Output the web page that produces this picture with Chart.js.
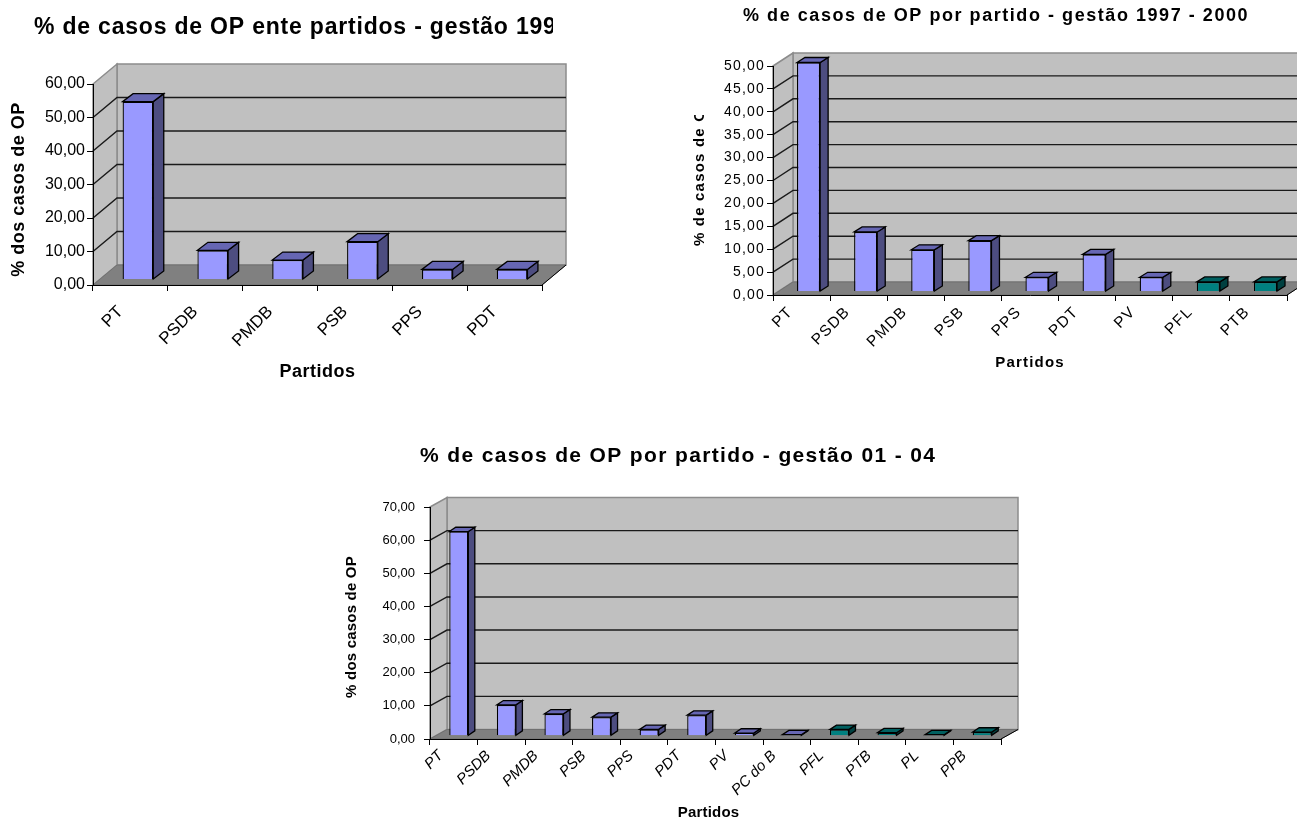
<!DOCTYPE html>
<html lang="pt">
<head>
<meta charset="utf-8">
<title>% de casos de OP por partido</title>
<script src="https://cdn.jsdelivr.net/npm/chart.js"></script>
<style>
  html, body { margin: 0; padding: 0; background: #fff; }
  canvas { position: absolute; }
</style>
</head>
<body>
<canvas id="grafico1" width="590" height="395" style="left:0;top:0"></canvas>
<canvas id="grafico2" width="607" height="395" style="left:690px;top:0"></canvas>
<canvas id="grafico3" width="700" height="389" style="left:335px;top:430px"></canvas>
<script>
// Dados
const partidos1 = ['PT', 'PSDB', 'PMDB', 'PSB', 'PPS', 'PDT'];
const valores1 = [53.1, 8.7, 5.8, 11.3, 3.0, 3.0];

const partidos2 = ['PT', 'PSDB', 'PMDB', 'PSB', 'PPS', 'PDT', 'PV', 'PFL', 'PTB'];
const valores2 = [50.0, 13.0, 9.1, 11.1, 3.1, 8.1, 3.1, 2.1, 2.1];

const partidos3 = ['PT', 'PSDB', 'PMDB', 'PSB', 'PPS', 'PDT', 'PV', 'PC do B', 'PFL', 'PTB', 'PL', 'PPB'];
const valores3 = [61.6, 9.3, 6.6, 5.6, 1.9, 6.2, 0.8, 0.3, 1.9, 0.9, 0.3, 1.1];

const partidosVerdes = ['PFL', 'PTB', 'PL', 'PPB'];

const ROXO = { frente: '#9999ff', topo: '#6666b3', lado: '#4d4d80' };
const VERDE = { frente: '#008080', topo: '#006060', lado: '#004040' };

// Troca um método de desenho por um com espaçamento de letras e deslocamento
function comEstilo(ctx, obj, metodo, espaco, dx = 0, dy = 0) {
    const original = obj[metodo];
    obj[metodo] = function (...args) {
        ctx.save();
        ctx.letterSpacing = espaco + 'px';
        ctx.translate(dx, dy);
        original.apply(this, args);
        ctx.restore();
    };
}

function poligono(ctx, pontos, fundo, linha, largura) {
    ctx.beginPath();
    pontos.forEach((p, i) => (i ? ctx.lineTo(p[0], p[1]) : ctx.moveTo(p[0], p[1])));
    ctx.closePath();
    if (fundo) { ctx.fillStyle = fundo; ctx.fill(); }
    if (linha) { ctx.strokeStyle = linha; ctx.lineWidth = largura; ctx.stroke(); }
}

// Paredes, chão e faces das barras (aspecto de gráfico 3D do Excel)
const efeito3d = {
    id: 'efeito3d',
    afterLayout(chart, args, o) {
        const t = chart.titleBlock;
        t.left = o.tituloX;
        t.right = o.tituloX + 900;
        t.top = o.tituloY;
        if (chart.$estilado) return;
        chart.$estilado = true;
        const ctx = chart.ctx;
        comEstilo(ctx, t, 'draw', o.espTitulo);
        comEstilo(ctx, chart.scales.x, 'drawLabels', o.espTicks);
        comEstilo(ctx, chart.scales.y, 'drawLabels', o.espTicks);
        comEstilo(ctx, chart.scales.x, 'drawTitle', o.espEixo, o.eixoX[0], o.eixoX[1]);
        comEstilo(ctx, chart.scales.y, 'drawTitle', o.espEixo, o.eixoY[0], o.eixoY[1]);
    },
    beforeDraw(chart, args, o) {
        const { ctx, chartArea: a, scales: { y } } = chart;
        const [dx, dy] = o.fundo;
        ctx.save();
        poligono(ctx, [[a.left + dx, a.top + dy], [a.right + dx, a.top + dy], [a.right + dx, a.bottom + dy], [a.left + dx, a.bottom + dy]], '#c0c0c0', '#8c8c8c', 1.5);
        poligono(ctx, [[a.left, a.top], [a.left + dx, a.top + dy], [a.left + dx, a.bottom + dy], [a.left, a.bottom]], '#c0c0c0', '#8c8c8c', 1.5);
        y.ticks.forEach(t => {
            const py = y.getPixelForValue(t.value);
            if (t.value === y.max || t.value === 0) return;
            ctx.strokeStyle = '#1a1a1a';
            ctx.lineWidth = 1.4;
            ctx.beginPath();
            ctx.moveTo(a.left, py);
            ctx.lineTo(a.left + dx, py + dy);
            ctx.lineTo(a.right + dx, py + dy);
            ctx.stroke();
        });
        poligono(ctx, [[a.left, a.bottom], [a.right, a.bottom], [a.right + dx, a.bottom + dy], [a.left + dx, a.bottom + dy]], '#808080', '#707070', 1);
        ctx.strokeStyle = '#000';
        ctx.lineWidth = 1;
        ctx.beginPath();
        ctx.moveTo(a.right, a.bottom);
        ctx.lineTo(a.right + dx, a.bottom + dy);
        ctx.stroke();
        ctx.restore();
    },
    beforeDatasetDraw(chart, args, o) {
        const ctx = chart.ctx;
        const [px, py] = o.barra;
        const [bx, by] = o.prof;
        ctx.save();
        ctx.translate(px, py);
        args.meta.data.forEach((el, i) => {
            const b = el.getProps(['x', 'y', 'base', 'width'], true);
            const x0 = b.x - b.width / 2;
            const x1 = b.x + b.width / 2;
            const cor = partidosVerdes.includes(chart.data.labels[i]) ? VERDE : ROXO;
            poligono(ctx, [[x1, b.y], [x1, b.base], [x1 + bx, b.base + by], [x1 + bx, b.y + by]], cor.lado, '#000', 1.3);
            poligono(ctx, [[x0, b.y], [x1, b.y], [x1 + bx, b.y + by], [x0 + bx, b.y + by]], cor.topo, '#000', 1.3);
        });
    },
    afterDatasetDraw(chart) {
        chart.ctx.restore();
    },
    afterDraw(chart, args, o) {
        // o texto do original aparece cortado pela moldura do objeto
        if (!o.corte) return;
        chart.ctx.fillStyle = '#fff';
        chart.ctx.fillRect(...o.corte);
    }
};

function criarGrafico(id, partidos, valores, titulo, tituloEixoY, maximo, passo, e) {
    const canvas = document.getElementById(id);
    const f = e.frente;
    const rotulo = (tamanho, negrito, italico) => ({
        family: '"Liberation Sans", Arial, sans-serif',
        size: tamanho,
        weight: negrito ? 'bold' : 'normal',
        style: italico ? 'italic' : 'normal'
    });
    return new Chart(canvas, {
        type: 'bar',
        data: {
            labels: partidos,
            datasets: [{
                data: valores,
                backgroundColor: partidos.map(p => (partidosVerdes.includes(p) ? VERDE.frente : ROXO.frente)),
                borderColor: '#000',
                borderWidth: 1.3,
                barPercentage: e.barra,
                categoryPercentage: 1,
                clip: false
            }]
        },
        plugins: [efeito3d],
        options: {
            responsive: false,
            animation: false,
            layout: {
                padding: {
                    left: e.esquerda,
                    right: canvas.width - f.dir,
                    top: f.topo - e.tamTitulo * 1.2,
                    bottom: canvas.height - e.baseEixo
                }
            },
            plugins: {
                legend: { display: false },
                tooltip: { enabled: false },
                title: {
                    display: true,
                    text: titulo,
                    align: 'start',
                    color: '#000',
                    padding: 0,
                    font: rotulo(e.tamTitulo, true)
                },
                efeito3d: {
                    fundo: e.fundo,
                    barra: e.desloc,
                    prof: e.prof,
                    tituloX: e.tituloX,
                    tituloY: e.tituloY,
                    espTitulo: e.espTitulo,
                    espTicks: e.espTicks,
                    espEixo: e.espEixo,
                    eixoX: e.eixoX,
                    eixoY: e.eixoY,
                    corte: e.corte
                }
            },
            scales: {
                x: {
                    afterFit(s) { s.height = e.baseEixo - f.base; },
                    grid: { drawOnChartArea: false, color: '#000', tickLength: 6, tickColor: '#000' },
                    border: { color: '#000' },
                    ticks: {
                        autoSkip: false,
                        minRotation: 45,
                        maxRotation: 45,
                        color: '#000',
                        labelOffset: e.rotuloDx,
                        padding: e.rotuloPad,
                        font: rotulo(e.tamRotulo, false, e.italico)
                    },
                    title: { display: true, text: 'Partidos', color: '#000', padding: 0, font: rotulo(e.tamEixo, true) }
                },
                y: {
                    min: 0,
                    max: maximo,
                    afterFit(s) { s.width = f.esq - e.esquerda; },
                    grid: { drawOnChartArea: false, color: '#000', tickLength: 6, tickColor: '#000' },
                    border: { color: '#000' },
                    ticks: {
                        stepSize: passo,
                        color: '#000',
                        padding: e.ticksPad,
                        font: rotulo(e.tamTicks),
                        callback: v => v.toFixed(2).replace('.', ',')
                    },
                    title: { display: true, text: tituloEixoY, color: '#000', padding: 0, font: rotulo(e.tamEixo, true) }
                }
            }
        }
    });
}

criarGrafico('grafico1', partidos1, valores1, '% de casos de OP ente partidos - gestão 199', '% dos casos de OP', 60, 10, {
    frente: { esq: 93, dir: 542, topo: 84, base: 285 },
    fundo: [24, -20], barra: 0.41, desloc: [7.5, -5.5], prof: [10.5, -8],
    esquerda: 8, baseEixo: 383,
    tituloX: 34, tituloY: 14, tamTitulo: 23, espTitulo: 0.8,
    tamTicks: 16, espTicks: 0, ticksPad: 2, tamRotulo: 17, rotuloDx: -10, rotuloPad: 11,
    tamEixo: 18, espEixo: 0.5, eixoX: [0, 0], eixoY: [0, 5],
    corte: [553, 0, 37, 50]
});

criarGrafico('grafico2', partidos2, valores2, '% de casos de OP por partido - gestão 1997 - 2000', '% de casos de O', 50, 5, {
    frente: { esq: 83, dir: 597, topo: 66, base: 295 },
    fundo: [20, -13], barra: 0.405, desloc: [7, -3.5], prof: [8, -5],
    esquerda: 1, baseEixo: 372,
    tituloX: 53, tituloY: 5, tamTitulo: 18, espTitulo: 1.55,
    tamTicks: 14, espTicks: 1.2, ticksPad: 2, tamRotulo: 15.5, rotuloDx: -11, rotuloPad: 2,
    tamEixo: 15, espEixo: 1.2, eixoX: [0, 0], eixoY: [0, -3],
    corte: [0, 0, 30, 115]
});

criarGrafico('grafico3', partidos3, valores3, '% de casos de OP por partido - gestão 01 - 04', '% dos casos de OP', 70, 10, {
    frente: { esq: 95, dir: 666, topo: 77, base: 309 },
    fundo: [17, -9.5], barra: 0.4, desloc: [5, -3.3], prof: [6.5, -4.3],
    esquerda: 8, baseEixo: 389,
    tituloX: 85, tituloY: 14, tamTitulo: 21, espTitulo: 1.36,
    tamTicks: 13, espTicks: 0, ticksPad: 9, tamRotulo: 15, rotuloDx: -13, rotuloPad: 2,
    tamEixo: 15, espEixo: 0.2, eixoX: [-7, 3], eixoY: [0, 4],
    italico: true
});
</script>
</body>
</html>
